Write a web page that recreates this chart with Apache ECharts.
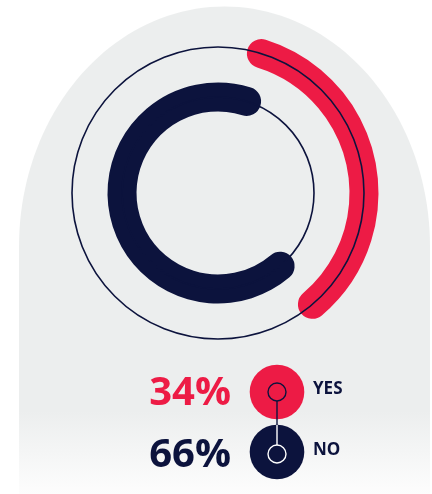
<!DOCTYPE html>
<html>
<head>
<meta charset="utf-8">
<script src="https://cdn.jsdelivr.net/npm/echarts@6/dist/echarts.min.js"></script>
<style>
  html, body { margin: 0; padding: 0; background: #ffffff; }
  #chart { width: 432px; height: 494px; }
</style>
</head>
<body>
<div id="chart"></div>
<script>
// Survey answers: share of respondents per answer (percent)
const answers = ['YES', 'NO'];
const shares = [34, 66];
const answerColors = ['#ED1B45', '#0C133D'];

// Ring order on the radius axis, inner ring first
const rings = ['NO', 'YES'];

const NAVY = '#0C133D';
const RED = '#ED1B45';
const FONT = '"Open Sans", "Noto Sans", sans-serif';

const yesShare = shares[answers.indexOf('YES')];
const noShare = shares[answers.indexOf('NO')];
const total = shares.reduce((a, b) => a + b, 0);

// Arched backdrop: half-ellipse top on a straight-sided panel
function archPoints(left, right, top, bottom, ry) {
  const cx = (left + right) / 2;
  const rx = (right - left) / 2;
  const cy = top + ry;
  const pts = [];
  for (let i = 0; i <= 90; i++) {
    const t = Math.PI - (i / 90) * Math.PI;
    pts.push([cx + rx * Math.cos(t), cy - ry * Math.sin(t)]);
  }
  pts.push([right, bottom]);
  pts.push([left, bottom]);
  return pts;
}

const chart = echarts.init(document.getElementById('chart'), null, { renderer: 'canvas' });

// all ring bars share one stack so each ring gets the full bar width
const ringBar = {
  type: 'bar',
  coordinateSystem: 'polar',
  stack: 'rings',
  barWidth: 29,
  clip: false
};

const option = {
  animation: false,
  backgroundColor: '#ffffff',
  polar: {
    center: [218, 193],
    radius: [96, 146]
  },
  angleAxis: {
    type: 'value',
    min: 0,
    max: total,
    startAngle: 72.7,
    clockwise: true,
    show: false
  },
  radiusAxis: {
    type: 'category',
    data: rings,
    boundaryGap: false,
    z: 10,
    axisLine: { show: false },
    axisTick: { show: false },
    axisLabel: { show: false },
    splitLine: {
      show: true,
      lineStyle: { color: NAVY, width: 1.6 }
    }
  },
  series: [
    Object.assign({}, ringBar, {
      // leading gap on the inner ring, so NO continues where YES ends
      name: 'offset',
      silent: true,
      itemStyle: { color: 'rgba(0,0,0,0)' },
      data: rings.map(r => (r === 'NO' ? yesShare : '-'))
    }),
    Object.assign({}, ringBar, {
      name: 'NO',
      roundCap: true,
      itemStyle: { color: answerColors[1] },
      data: rings.map(r => (r === 'NO' ? noShare : '-'))
    }),
    Object.assign({}, ringBar, {
      name: 'YES',
      roundCap: true,
      itemStyle: { color: answerColors[0] },
      data: rings.map(r => (r === 'YES' ? yesShare : '-'))
    })
  ],
  graphic: [
    {
      type: 'polygon',
      z: -10,
      silent: true,
      shape: { points: archPoints(19, 430, 6.5, 494, 240) },
      style: {
        fill: new echarts.graphic.LinearGradient(0, 0, 0, 1, [
          { offset: 0, color: '#ECEEEE' },
          { offset: 0.83, color: '#ECEEEE' },
          { offset: 1, color: '#FDFDFD' }
        ])
      }
    },
    // key: percentages, answer dots and connector
    {
      type: 'text',
      z: 100,
      style: {
        text: yesShare + '%',
        x: 231, y: 394,
        textAlign: 'right', textVerticalAlign: 'middle',
        fill: RED,
        font: 'bold 40px ' + FONT
      }
    },
    {
      type: 'text',
      z: 100,
      style: {
        text: noShare + '%',
        x: 231, y: 456,
        textAlign: 'right', textVerticalAlign: 'middle',
        fill: NAVY,
        font: 'bold 40px ' + FONT
      }
    },
    {
      type: 'circle', z: 100,
      shape: { cx: 277, cy: 392, r: 27.3 },
      style: { fill: answerColors[0] }
    },
    {
      type: 'circle', z: 100,
      shape: { cx: 277, cy: 452, r: 27.3 },
      style: { fill: answerColors[1] }
    },
    {
      type: 'line', z: 101,
      shape: { x1: 277, y1: 401, x2: 277, y2: 425 },
      style: { stroke: NAVY, lineWidth: 1.4 }
    },
    {
      type: 'line', z: 101,
      shape: { x1: 277, y1: 425, x2: 277, y2: 445 },
      style: { stroke: '#ffffff', lineWidth: 1.4 }
    },
    {
      type: 'circle', z: 102,
      shape: { cx: 277, cy: 392, r: 9 },
      style: { fill: answerColors[0], stroke: NAVY, lineWidth: 1.4 }
    },
    {
      type: 'circle', z: 102,
      shape: { cx: 277, cy: 454, r: 9 },
      style: { fill: answerColors[1], stroke: '#ffffff', lineWidth: 1.4 }
    },
    {
      type: 'text', z: 100,
      style: {
        text: answers[0],
        x: 313, y: 389,
        textAlign: 'left', textVerticalAlign: 'middle',
        fill: NAVY,
        font: 'bold 17px ' + FONT
      }
    },
    {
      type: 'text', z: 100,
      style: {
        text: answers[1],
        x: 313, y: 450,
        textAlign: 'left', textVerticalAlign: 'middle',
        fill: NAVY,
        font: 'bold 17px ' + FONT
      }
    }
  ]
};

chart.setOption(option);
</script>
</body>
</html>
